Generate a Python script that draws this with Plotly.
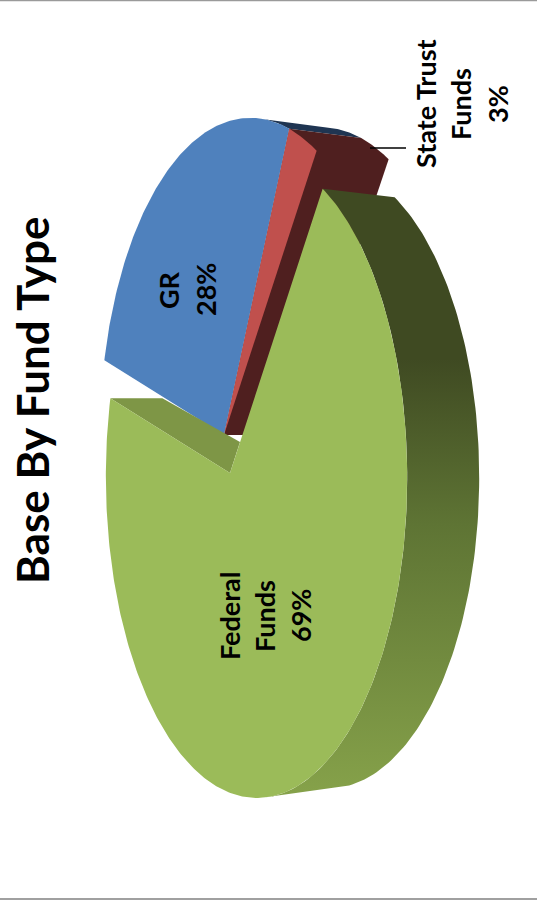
import numpy as np
import plotly.graph_objects as go

# ---- data (labels show the rounded shares)
categories = ["Federal Funds", "GR", "State Trust Funds"]
shares = [69.7, 27.4, 2.9]
label_lines = {
    "Federal Funds": ["Federal", "Funds", "69%"],
    "GR": ["GR", "28%"],
    "State Trust Funds": ["State Trust", "Funds", "3%"],
}
title_text = "Base By Fund Type"

# ---- projection of the tilted 3-D pie
START_DEG = -54.8
AX, BY, PERSP, PERSP_V = 146.0, 316.0, 0.176, 0.012
DEPTH_X, DEPTH_SCALE = 72.0, 0.97
HUB_GREEN = (230.0, 473.0)
HUB_OTHER = (224.0, 435.0)

cum = np.cumsum([0] + shares) / sum(shares) * 360 + START_DEG
green_a, green_b = cum[0], cum[1]
blue_a, blue_b = cum[1], cum[2]
red_a, red_b = cum[2], cum[3]


def rim(hub, deg, lower=False):
    t = np.radians(np.atleast_1d(deg))
    u, v = np.cos(t), np.sin(t)
    w = 1 - PERSP * u - PERSP_V * v
    x, y = AX * u / w, BY * v / w
    if lower:
        return hub[0] + DEPTH_X + x, hub[1] + DEPTH_SCALE * y
    return hub[0] + x, hub[1] + y


def arc(a, b, n=120):
    return np.linspace(a, b, n)


def poly(xs, ys, color=None, **kw):
    return go.Scatter(x=xs, y=ys, mode="lines", fill="toself", fillcolor=color,
                      line=dict(width=0), hoverinfo="skip", showlegend=False, **kw)


fig = go.Figure()

# blue slice outer wall (dark navy sliver)
xt, yt = rim(HUB_OTHER, arc(blue_b - 13, blue_b, 30))
xb, yb = rim(HUB_OTHER, arc(blue_b - 13, blue_b, 30), True)
fig.add_trace(poly(np.r_[xt, xb[::-1]], np.r_[yt, yb[::-1]], "#1F3552"))

# red slice walls
x0, y0 = rim(HUB_OTHER, blue_b)
xb, yb = rim(HUB_OTHER, arc(red_a, red_b, 30), True)
fig.add_trace(poly(np.r_[HUB_OTHER[0], x0, xb, HUB_OTHER[0] + DEPTH_X],
                   np.r_[HUB_OTHER[1], y0, yb, HUB_OTHER[1]], "#4F1F1F"))

# blue and red top faces
xt, yt = rim(HUB_OTHER, arc(blue_a, blue_b))
fig.add_trace(poly(np.r_[HUB_OTHER[0], xt], np.r_[HUB_OTHER[1], yt], "#4F81BD"))
xt, yt = rim(HUB_OTHER, arc(red_a, red_b, 30))
fig.add_trace(poly(np.r_[HUB_OTHER[0], xt], np.r_[HUB_OTHER[1], yt], "#C0504D"))

# green cut face
xe, ye = rim(HUB_GREEN, green_b)
fig.add_trace(poly(np.r_[xe, HUB_GREEN[0], HUB_GREEN[0] + 10, xe + 52],
                   np.r_[ye, HUB_GREEN[1], HUB_GREEN[1] - 31, ye], "#7E9646"))

# green outer wall with gradient
T_SIL = 78
xt, yt = rim(HUB_GREEN, arc(green_a, T_SIL))
xb, yb = rim(HUB_GREEN, arc(green_a, T_SIL), True)
fig.add_trace(go.Scatter(
    x=np.r_[xt, xb[::-1]], y=np.r_[yt, yb[::-1]], mode="lines", fill="toself",
    line=dict(width=0), hoverinfo="skip", showlegend=False,
    fillgradient=dict(type="vertical",
                      colorscale=[[0, "#86A24A"], [0.45, "#5E7434"], [0.72, "#3F4A22"], [1, "#3F4A22"]]),
))

# green top face
xt, yt = rim(HUB_GREEN, arc(green_a, green_b, 300))
fig.add_trace(poly(np.r_[HUB_GREEN[0], xt], np.r_[HUB_GREEN[1], yt], "#9BBB59"))

# leader line for the small slice
fig.add_shape(type="line", x0=370, x1=406, y0=148, y1=148, line=dict(color="#000", width=1.6))

# frame lines
fig.add_shape(type="line", x0=0, x1=537, y0=0.5, y1=0.5, line=dict(color="#9a9a9a", width=1.5))
fig.add_shape(type="line", x0=0, x1=537, y0=899, y1=899, line=dict(color="#a0a0a0", width=2))

FONT = "Lato, Open Sans, sans-serif"


def add_text(x, y, text, size):
    fig.add_annotation(x=x, y=y, text=f"<b>{text}</b>", textangle=-90, showarrow=False,
                       font=dict(family=FONT, size=size, color="#000"),
                       xanchor="center", yanchor="middle")


add_text(32, 400, title_text, 44)
for cat, xs, yc in [("Federal Funds", [229, 264, 300], 616),
                    ("GR", [168, 205], 290),
                    ("State Trust Funds", [425, 460, 497], 104)]:
    for x, line in zip(xs, label_lines[cat]):
        add_text(x, yc, line, 27)

fig.update_layout(
    width=537, height=904, margin=dict(l=0, r=0, t=0, b=0),
    paper_bgcolor="white", plot_bgcolor="white", showlegend=False,
    xaxis=dict(range=[0, 537], visible=False, fixedrange=True),
    yaxis=dict(range=[904, 0], visible=False, fixedrange=True),
)
fig.write_html("out.html", include_plotlyjs=True, config=dict(displayModeBar=False),
               post_script="document.body.style.margin='0';document.body.style.overflow='hidden';")
